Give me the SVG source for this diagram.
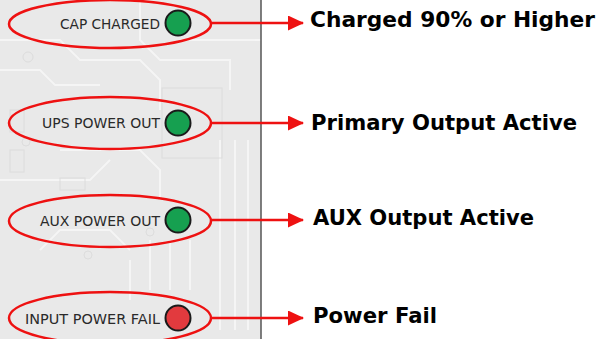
<svg xmlns="http://www.w3.org/2000/svg" width="604" height="339" viewBox="0 0 604 339">
<defs>
<style>
.lbl{font-family:"DejaVu Sans","Verdana",sans-serif;font-size:14px;fill:#2a2a2a}
.desc{font-family:"DejaVu Sans","Verdana",sans-serif;font-size:21.5px;font-weight:bold;fill:#000}
.ring{fill:none;stroke:#ee1111;stroke-width:2.5}
.ledg{fill:#16a050;stroke:#1a1a1a;stroke-width:2}
.ledr{fill:#e23a3e;stroke:#1a1a1a;stroke-width:2}
.conn{stroke:#ee1111;stroke-width:2.5;fill:none}
.trace{stroke:#f7f7f7;stroke-width:2;fill:none}
.trace2{stroke:#dcdcdc;stroke-width:1;fill:none}
</style>
<marker id="arr" markerWidth="16" markerHeight="16" refX="15" refY="7.5" orient="auto" markerUnits="userSpaceOnUse">
<path d="M0,0 L16,7.5 L0,15 Z" fill="#ee1111"/>
</marker>
</defs>
<rect x="0" y="0" width="604" height="339" fill="#ffffff"/>
<g id="panel">
<rect x="0" y="0" width="261" height="339" fill="#e9e9e9"/>
<g opacity="0.9">
<path class="trace" d="M0,40 H60 L80,60 H140 L160,80 V110"/>
<path class="trace" d="M0,70 H40 L55,85 H100"/>
<path class="trace" d="M140,0 V40 L160,60 H230 V90"/>
<path class="trace" d="M180,40 H261"/>
<path class="trace" d="M60,150 H140 L160,170 V200"/>
<path class="trace" d="M0,180 H90 L110,160"/>
<path class="trace" d="M130,260 V300"/>
<path class="trace" d="M40,250 L60,230 H110 L130,250"/>
<path class="trace" d="M150,240 V290 M170,240 V290 M190,240 V290"/>
<path class="trace" d="M220,140 V330 M235,140 V330 M248,140 V330"/>
<rect class="trace2" x="162" y="88" width="60" height="70"/>
<rect class="trace2" x="10" y="110" width="14" height="22"/>
<rect class="trace2" x="10" y="150" width="14" height="22"/>
<rect class="trace2" x="60" y="178" width="25" height="12"/>
<circle class="trace2" cx="28" cy="57" r="5"/>
<circle class="trace2" cx="26" cy="142" r="4"/>
<circle class="trace2" cx="88" cy="255" r="4"/>
<circle class="trace2" cx="150" cy="232" r="4"/>
</g>
<line x1="261" y1="0" x2="261" y2="339" stroke="#555" stroke-width="1.5"/>
</g>
<g id="cap-charged">
<ellipse class="ring" cx="110" cy="24" rx="101" ry="24"/>
<text class="lbl" x="60" y="29" textLength="100" lengthAdjust="spacingAndGlyphs">CAP CHARGED</text>
<circle class="ledg" cx="178" cy="23" r="12.5"/>
</g>
<g id="ups-power-out">
<ellipse class="ring" cx="110" cy="123" rx="101" ry="26"/>
<text class="lbl" x="42" y="128" textLength="118" lengthAdjust="spacingAndGlyphs">UPS POWER OUT</text>
<circle class="ledg" cx="178" cy="123" r="12.5"/>
</g>
<g id="aux-power-out">
<ellipse class="ring" cx="110" cy="221" rx="101" ry="26"/>
<text class="lbl" x="40" y="226" textLength="120" lengthAdjust="spacingAndGlyphs">AUX POWER OUT</text>
<circle class="ledg" cx="178" cy="220" r="12.5"/>
</g>
<g id="input-power-fail">
<ellipse class="ring" cx="110" cy="318" rx="101" ry="26"/>
<text class="lbl" x="25" y="324" textLength="135" lengthAdjust="spacingAndGlyphs">INPUT POWER FAIL</text>
<circle class="ledr" cx="178" cy="318" r="12.5"/>
</g>
<g id="connectors">
<line class="conn" x1="211" y1="23" x2="303" y2="23" marker-end="url(#arr)"/>
<line class="conn" x1="211" y1="123" x2="303" y2="123" marker-end="url(#arr)"/>
<line class="conn" x1="211" y1="220" x2="303" y2="220" marker-end="url(#arr)"/>
<line class="conn" x1="211" y1="318" x2="303" y2="318" marker-end="url(#arr)"/>
</g>
<g id="desc-charged"><text class="desc" x="310" y="27" textLength="285" lengthAdjust="spacingAndGlyphs">Charged 90% or Higher</text></g>
<g id="desc-primary"><text class="desc" x="311" y="130" textLength="266" lengthAdjust="spacingAndGlyphs">Primary Output Active</text></g>
<g id="desc-aux"><text class="desc" x="313" y="225" textLength="221" lengthAdjust="spacingAndGlyphs">AUX Output Active</text></g>
<g id="desc-fail"><text class="desc" x="313" y="323" textLength="124" lengthAdjust="spacingAndGlyphs">Power Fail</text></g>
</svg>
